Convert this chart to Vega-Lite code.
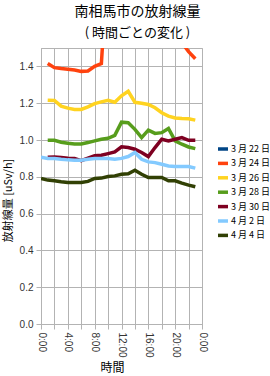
{
  "$schema": "https://vega.github.io/schema/vega-lite/v6.json",
  "autosize": "none",
  "width": 161,
  "height": 276,
  "padding": {"left": 41, "top": 48, "right": 68, "bottom": 52},
  "background": "white",
  "title": {
    "text": "南相馬市の放射線量",
    "subtitle": "( 時間ごとの変化 )",
    "font": "Noto Sans CJK JP",
    "subtitleFont": "Noto Sans CJK JP",
    "fontSize": 14,
    "subtitleFontSize": 13,
    "fontWeight": "normal",
    "color": "#000000",
    "subtitleColor": "#000000",
    "anchor": "middle",
    "dx": 16,
    "offset": 8,
    "subtitlePadding": 8
  },
  "config": {
    "view": {"stroke": "#b3b3b3", "strokeWidth": 1},
    "axis": {
      "gridColor": "#b3b3b3",
      "gridOpacity": 1,
      "domainColor": "#b3b3b3",
      "tickColor": "#b3b3b3",
      "tickSize": 5,
      "labelFont": "Liberation Sans",
      "labelFontSize": 10,
      "labelColor": "#333333",
      "titleFont": "Noto Sans CJK JP",
      "titleFontSize": 11,
      "titleFontWeight": "normal",
      "titleColor": "#000000"
    }
  },
  "data": {
    "values": [
      {"date": "3 月 24 日", "hour": 1, "v": 1.416},
      {"date": "3 月 24 日", "hour": 2, "v": 1.393},
      {"date": "3 月 24 日", "hour": 3, "v": 1.388},
      {"date": "3 月 24 日", "hour": 4, "v": 1.384},
      {"date": "3 月 24 日", "hour": 5, "v": 1.38},
      {"date": "3 月 24 日", "hour": 6, "v": 1.373},
      {"date": "3 月 24 日", "hour": 7, "v": 1.375},
      {"date": "3 月 24 日", "hour": 8, "v": 1.4},
      {"date": "3 月 24 日", "hour": 9, "v": 1.415},
      {"date": "3 月 24 日", "hour": 10, "v": 2.0},
      {"date": "3 月 24 日", "hour": 21, "v": 1.53},
      {"date": "3 月 24 日", "hour": 22, "v": 1.48},
      {"date": "3 月 24 日", "hour": 23, "v": 1.442},

      {"date": "3 月 26 日", "hour": 1, "v": 1.216},
      {"date": "3 月 26 日", "hour": 2, "v": 1.215},
      {"date": "3 月 26 日", "hour": 3, "v": 1.184},
      {"date": "3 月 26 日", "hour": 4, "v": 1.173},
      {"date": "3 月 26 日", "hour": 5, "v": 1.166},
      {"date": "3 月 26 日", "hour": 6, "v": 1.166},
      {"date": "3 月 26 日", "hour": 7, "v": 1.18},
      {"date": "3 月 26 日", "hour": 8, "v": 1.198},
      {"date": "3 月 26 日", "hour": 9, "v": 1.207},
      {"date": "3 月 26 日", "hour": 10, "v": 1.216},
      {"date": "3 月 26 日", "hour": 11, "v": 1.205},
      {"date": "3 月 26 日", "hour": 12, "v": 1.24},
      {"date": "3 月 26 日", "hour": 13, "v": 1.265},
      {"date": "3 月 26 日", "hour": 14, "v": 1.205},
      {"date": "3 月 26 日", "hour": 15, "v": 1.2},
      {"date": "3 月 26 日", "hour": 16, "v": 1.193},
      {"date": "3 月 26 日", "hour": 17, "v": 1.175},
      {"date": "3 月 26 日", "hour": 18, "v": 1.148},
      {"date": "3 月 26 日", "hour": 19, "v": 1.13},
      {"date": "3 月 26 日", "hour": 20, "v": 1.12},
      {"date": "3 月 26 日", "hour": 21, "v": 1.117},
      {"date": "3 月 26 日", "hour": 22, "v": 1.115},
      {"date": "3 月 26 日", "hour": 23, "v": 1.108},

      {"date": "3 月 28 日", "hour": 1, "v": 0.998},
      {"date": "3 月 28 日", "hour": 2, "v": 0.998},
      {"date": "3 月 28 日", "hour": 3, "v": 0.988},
      {"date": "3 月 28 日", "hour": 4, "v": 0.982},
      {"date": "3 月 28 日", "hour": 5, "v": 0.978},
      {"date": "3 月 28 日", "hour": 6, "v": 0.978},
      {"date": "3 月 28 日", "hour": 7, "v": 0.986},
      {"date": "3 月 28 日", "hour": 8, "v": 0.995},
      {"date": "3 月 28 日", "hour": 9, "v": 1.004},
      {"date": "3 月 28 日", "hour": 10, "v": 1.009},
      {"date": "3 月 28 日", "hour": 11, "v": 1.025},
      {"date": "3 月 28 日", "hour": 12, "v": 1.097},
      {"date": "3 月 28 日", "hour": 13, "v": 1.094},
      {"date": "3 月 28 日", "hour": 14, "v": 1.058},
      {"date": "3 月 28 日", "hour": 15, "v": 1.013},
      {"date": "3 月 28 日", "hour": 16, "v": 1.054},
      {"date": "3 月 28 日", "hour": 17, "v": 1.036},
      {"date": "3 月 28 日", "hour": 18, "v": 1.04},
      {"date": "3 月 28 日", "hour": 19, "v": 1.063},
      {"date": "3 月 28 日", "hour": 20, "v": 0.995},
      {"date": "3 月 28 日", "hour": 21, "v": 0.977},
      {"date": "3 月 28 日", "hour": 22, "v": 0.962},
      {"date": "3 月 28 日", "hour": 23, "v": 0.953},

      {"date": "3 月 30 日", "hour": 1, "v": 0.906},
      {"date": "3 月 30 日", "hour": 2, "v": 0.908},
      {"date": "3 月 30 日", "hour": 3, "v": 0.905},
      {"date": "3 月 30 日", "hour": 4, "v": 0.901},
      {"date": "3 月 30 日", "hour": 5, "v": 0.899},
      {"date": "3 月 30 日", "hour": 6, "v": 0.888},
      {"date": "3 月 30 日", "hour": 7, "v": 0.901},
      {"date": "3 月 30 日", "hour": 8, "v": 0.914},
      {"date": "3 月 30 日", "hour": 9, "v": 0.917},
      {"date": "3 月 30 日", "hour": 10, "v": 0.926},
      {"date": "3 月 30 日", "hour": 11, "v": 0.935},
      {"date": "3 月 30 日", "hour": 12, "v": 0.963},
      {"date": "3 月 30 日", "hour": 13, "v": 0.959},
      {"date": "3 月 30 日", "hour": 14, "v": 0.95},
      {"date": "3 月 30 日", "hour": 15, "v": 0.932},
      {"date": "3 月 30 日", "hour": 16, "v": 0.91},
      {"date": "3 月 30 日", "hour": 17, "v": 0.959},
      {"date": "3 月 30 日", "hour": 18, "v": 1.004},
      {"date": "3 月 30 日", "hour": 19, "v": 0.995},
      {"date": "3 月 30 日", "hour": 20, "v": 1.004},
      {"date": "3 月 30 日", "hour": 21, "v": 1.013},
      {"date": "3 月 30 日", "hour": 22, "v": 0.998},
      {"date": "3 月 30 日", "hour": 23, "v": 0.998},

      {"date": "4 月 2 日", "hour": 0, "v": 0.906},
      {"date": "4 月 2 日", "hour": 1, "v": 0.899},
      {"date": "4 月 2 日", "hour": 2, "v": 0.899},
      {"date": "4 月 2 日", "hour": 3, "v": 0.895},
      {"date": "4 月 2 日", "hour": 4, "v": 0.892},
      {"date": "4 月 2 日", "hour": 5, "v": 0.89},
      {"date": "4 月 2 日", "hour": 6, "v": 0.89},
      {"date": "4 月 2 日", "hour": 7, "v": 0.895},
      {"date": "4 月 2 日", "hour": 8, "v": 0.899},
      {"date": "4 月 2 日", "hour": 9, "v": 0.899},
      {"date": "4 月 2 日", "hour": 10, "v": 0.899},
      {"date": "4 月 2 日", "hour": 11, "v": 0.895},
      {"date": "4 月 2 日", "hour": 12, "v": 0.9},
      {"date": "4 月 2 日", "hour": 13, "v": 0.91},
      {"date": "4 月 2 日", "hour": 14, "v": 0.932},
      {"date": "4 月 2 日", "hour": 15, "v": 0.895},
      {"date": "4 月 2 日", "hour": 16, "v": 0.881},
      {"date": "4 月 2 日", "hour": 17, "v": 0.877},
      {"date": "4 月 2 日", "hour": 18, "v": 0.868},
      {"date": "4 月 2 日", "hour": 19, "v": 0.859},
      {"date": "4 月 2 日", "hour": 20, "v": 0.856},
      {"date": "4 月 2 日", "hour": 21, "v": 0.856},
      {"date": "4 月 2 日", "hour": 22, "v": 0.856},
      {"date": "4 月 2 日", "hour": 23, "v": 0.847},

      {"date": "4 月 4 日", "hour": 0, "v": 0.791},
      {"date": "4 月 4 日", "hour": 1, "v": 0.782},
      {"date": "4 月 4 日", "hour": 2, "v": 0.778},
      {"date": "4 月 4 日", "hour": 3, "v": 0.773},
      {"date": "4 月 4 日", "hour": 4, "v": 0.769},
      {"date": "4 月 4 日", "hour": 5, "v": 0.769},
      {"date": "4 月 4 日", "hour": 6, "v": 0.769},
      {"date": "4 月 4 日", "hour": 7, "v": 0.775},
      {"date": "4 月 4 日", "hour": 8, "v": 0.791},
      {"date": "4 月 4 日", "hour": 9, "v": 0.793},
      {"date": "4 月 4 日", "hour": 10, "v": 0.802},
      {"date": "4 月 4 日", "hour": 11, "v": 0.805},
      {"date": "4 月 4 日", "hour": 12, "v": 0.814},
      {"date": "4 月 4 日", "hour": 13, "v": 0.816},
      {"date": "4 月 4 日", "hour": 14, "v": 0.836},
      {"date": "4 月 4 日", "hour": 15, "v": 0.814},
      {"date": "4 月 4 日", "hour": 16, "v": 0.796},
      {"date": "4 月 4 日", "hour": 17, "v": 0.796},
      {"date": "4 月 4 日", "hour": 18, "v": 0.796},
      {"date": "4 月 4 日", "hour": 19, "v": 0.778},
      {"date": "4 月 4 日", "hour": 20, "v": 0.778},
      {"date": "4 月 4 日", "hour": 21, "v": 0.766},
      {"date": "4 月 4 日", "hour": 22, "v": 0.755},
      {"date": "4 月 4 日", "hour": 23, "v": 0.746}
    ]
  },
  "mark": {"type": "line", "strokeWidth": 3.5, "clip": true},
  "encoding": {
    "x": {
      "field": "hour",
      "type": "quantitative",
      "scale": {"domain": [0, 24], "nice": false},
      "axis": {
        "title": "時間",
        "titleFontSize": 12,
        "values": [0, 2, 4, 6, 8, 10, 12, 14, 16, 18, 20, 22, 24],
        "labelExpr": "datum.value % 4 == 0 ? (datum.value % 24) + ':00' : ''",
        "labelAngle": 90,
        "labelAlign": "left",
        "labelBaseline": "middle",
        "labelPadding": 3,
        "titleX": 71,
        "titleY": 43,
        "titleBaseline": "middle",
        "titleAlign": "center"
      }
    },
    "y": {
      "field": "v",
      "type": "quantitative",
      "scale": {"domain": [0, 1.5], "nice": false},
      "axis": {
        "title": "放射線量 [uSv/h]",
        "values": [0, 0.2, 0.4, 0.6, 0.8, 1.0, 1.2, 1.4],
        "format": ".1f",
        "labelPadding": 3,
        "titleX": -33,
        "titleY": 152,
        "titleAlign": "center",
        "titleBaseline": "middle"
      }
    },
    "color": {
      "field": "date",
      "type": "nominal",
      "scale": {
        "domain": ["3 月 22 日", "3 月 24 日", "3 月 26 日", "3 月 28 日", "3 月 30 日", "4 月 2 日", "4 月 4 日"],
        "range": ["#004586", "#ff420e", "#ffd320", "#579d1c", "#7e0021", "#83caff", "#314004"]
      },
      "legend": {
        "title": null,
        "orient": "none",
        "legendX": 175,
        "legendY": 94,
        "symbolType": "stroke",
        "symbolSize": 100,
        "symbolStrokeWidth": 3.5,
        "labelFont": "Noto Sans CJK JP",
        "labelFontSize": 9,
        "labelLimit": 60,
        "labelColor": "#000000",
        "labelOffset": 1,
        "rowPadding": 0.4
      }
    }
  }
}
